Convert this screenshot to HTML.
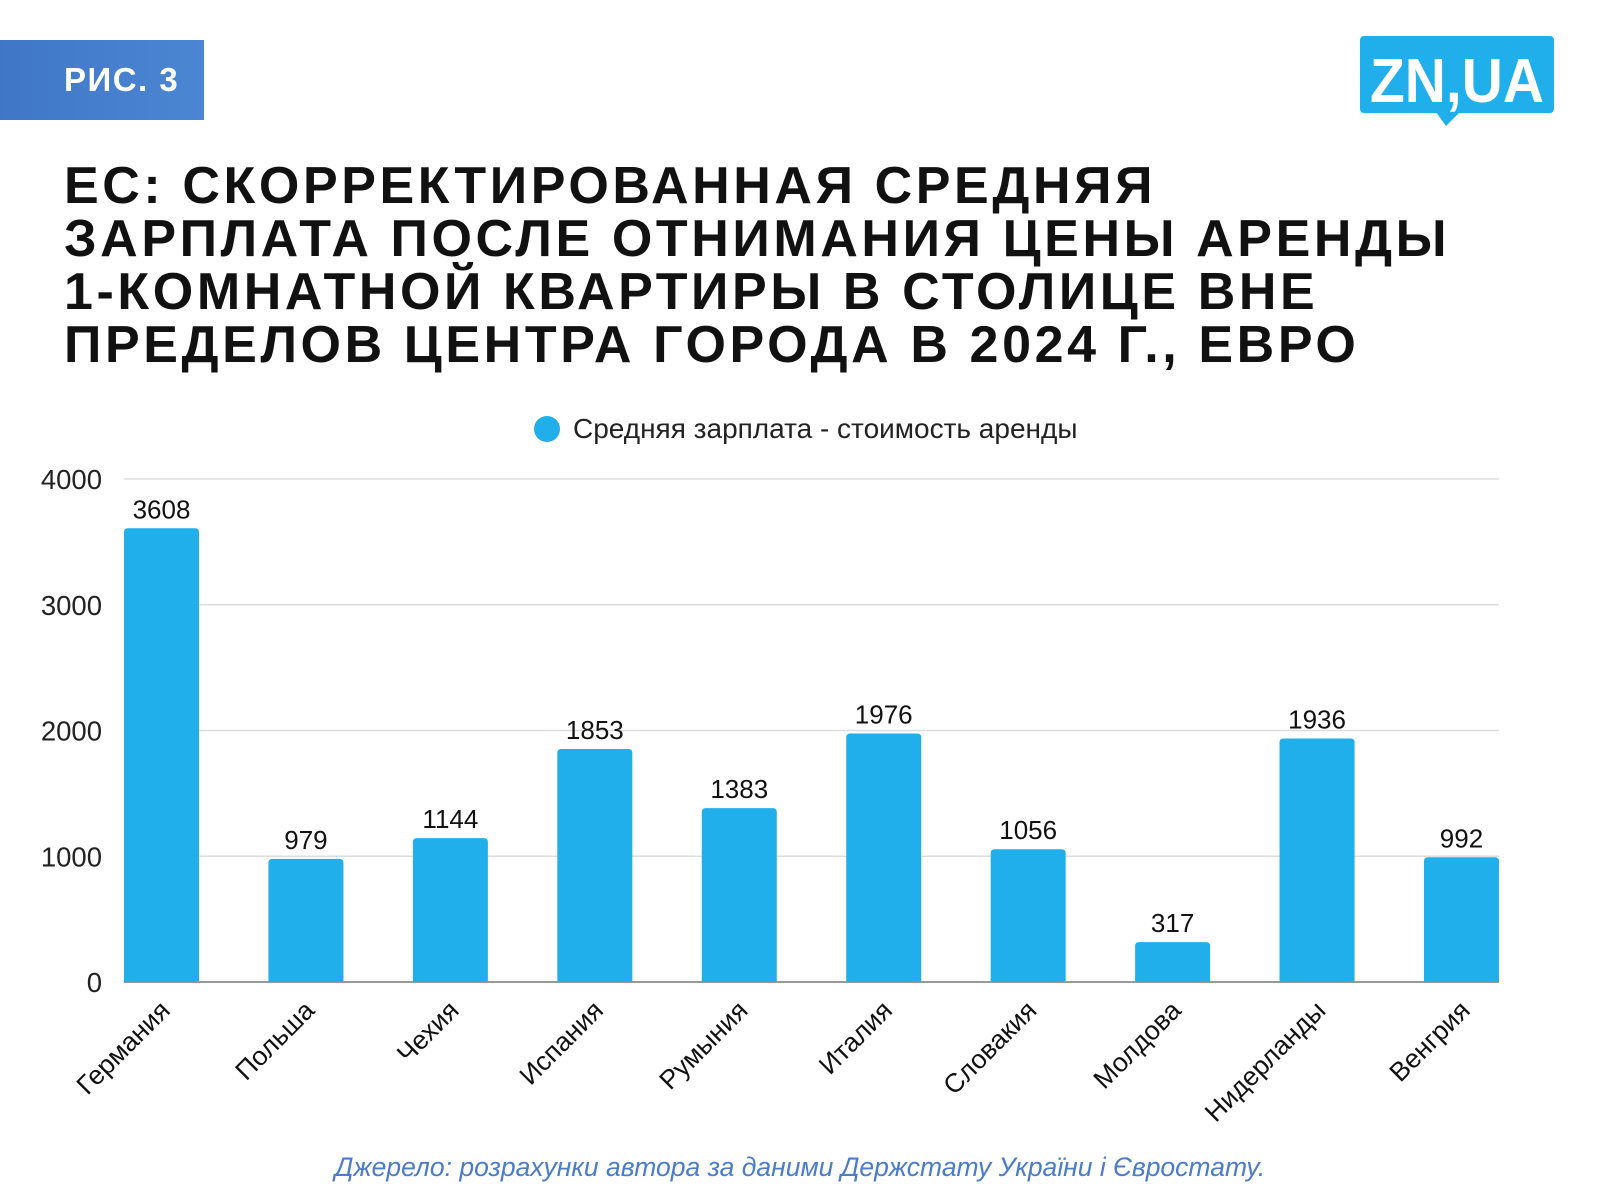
<!DOCTYPE html>
<html><head><meta charset="utf-8">
<style>
body{margin:0;width:1600px;height:1200px;background:#fff;overflow:hidden;font-family:"Liberation Sans","DejaVu Sans",sans-serif;position:relative}
#banner{position:absolute;left:0;top:40px;width:204px;height:80px;background:linear-gradient(90deg,#3f77c6,#4b86d3);color:#fff;font-weight:bold;font-size:33px;letter-spacing:1.5px;line-height:80px;padding-left:64px;box-sizing:border-box}
#title{position:absolute;left:64px;top:160px;font-weight:bold;font-size:52px;line-height:53px;color:#111;letter-spacing:3.6px}
#source{position:absolute;left:0;width:1600px;top:1152px;text-align:center;color:#4a7cc9;font-style:italic;font-size:26.5px}
</style></head><body>
<div id="banner">РИС. 3</div>
<svg style="position:absolute;left:1360px;top:36px" width="196" height="92">
<rect x="0" y="0" width="194" height="77" rx="4" fill="#21afec"/>
<path d="M76 76 L86 90 L100 76Z" fill="#21afec"/>
<text x="10" y="66" textLength="174" lengthAdjust="spacingAndGlyphs" fill="#fff" font-weight="bold" font-size="62" font-family="Liberation Sans Narrow, Liberation Sans, sans-serif">ZN,UA</text>
</svg>
<div id="title">ЕС: СКОРРЕКТИРОВАННАЯ СРЕДНЯЯ<br>ЗАРПЛАТА ПОСЛЕ ОТНИМАНИЯ ЦЕНЫ АРЕНДЫ<br>1-КОМНАТНОЙ КВАРТИРЫ В СТОЛИЦЕ ВНЕ<br>ПРЕДЕЛОВ ЦЕНТРА ГОРОДА В 2024 Г., ЕВРО</div>
<svg id="chart" style="position:absolute;left:0;top:0" width="1600" height="1200"></svg>
<div id="source">Джерело: розрахунки автора за даними Держстату України і Євростату.</div>
<script>
const categories=["Германия","Польша","Чехия","Испания","Румыния","Италия","Словакия","Молдова","Нидерланды","Венгрия"];
const values=[3608,979,1144,1853,1383,1976,1056,317,1936,992];
const yTicks=[0,1000,2000,3000,4000];
const NS="http://www.w3.org/2000/svg";
const svg=document.getElementById('chart');
const L=124,R=1499,Y0=982,Y1=479,maxV=4000,bw=75;
const step=(R-L-bw)/(categories.length-1);
const y=v=>Y0-(Y0-Y1)*v/maxV;
const xc=i=>L+bw/2+i*step;
function mk(t,a){const e=document.createElementNS(NS,t);for(const k in a)e.setAttribute(k,a[k]);svg.appendChild(e);return e;}
yTicks.forEach(t=>{
 const g=mk('line',{x1:L,x2:R,y1:y(t),y2:y(t),stroke:t===0?'#999':'#ddd','stroke-width':t===0?2:1.5});
 
 
 const lb=mk('text',{x:102,y:y(t)+10,'text-anchor':'end','font-size':27.5,fill:'#222'});
 lb.textContent=t;
 
 
});
categories.forEach((c,i)=>{
 const v=values[i];
 const b=mk('path',{d:`M${xc(i)-bw/2} ${Y0} V${y(v)+4} q0 -4 4 -4 H${xc(i)+bw/2-4} q4 0 4 4 V${Y0}Z`,fill:'#21afec'});
 
 
 const vl=mk('text',{x:xc(i),y:y(v)-10,'text-anchor':'middle','font-size':26,fill:'#111'});
 vl.textContent=v;
 
 
 const cx=xc(i)+10,cy=Y0+30;
 const xl=mk('text',{x:cx,y:cy,'text-anchor':'end','font-size':26.5,fill:'#111',transform:`rotate(-45 ${cx} ${cy})`});
 xl.textContent=c;
 
 
});
const lc=mk('circle',{cx:547,cy:429,r:13,fill:'#21afec'});


const lt=mk('text',{x:573,y:438,'font-size':28,fill:'#222'});
lt.textContent='Средняя зарплата - стоимость аренды';


</script>
</body></html>
